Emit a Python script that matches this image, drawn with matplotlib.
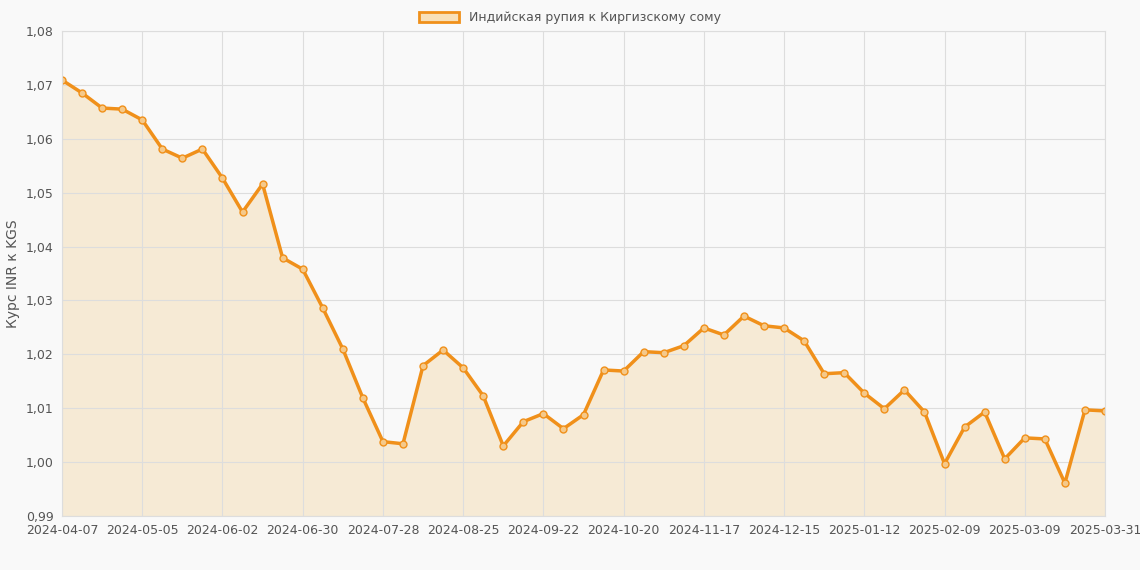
import matplotlib
matplotlib.use("Agg")
import matplotlib.pyplot as plt
from matplotlib.patches import Patch
from matplotlib.ticker import FixedLocator, FuncFormatter

values = [1.0709,1.0685,1.0657,1.0655,1.0635,1.0581,1.0564,1.0581,1.0527,1.0464,
          1.0516,1.0379,1.0358,1.0286,1.0210,1.0119,1.0038,1.0034,1.0179,1.0208,
          1.0175,1.0123,1.0030,1.0075,1.0090,1.0062,1.0088,1.0171,1.0169,1.0205,
          1.0203,1.0216,1.0249,1.0236,1.0271,1.0253,1.0249,1.0225,1.0164,1.0166,
          1.0128,1.0099,1.0134,1.0093,0.9997,1.0065,1.0093,1.0006,1.0045,1.0043,
          0.9961,1.0097,1.0095]
tick_pos = [0,4,8,12,16,20,24,28,32,36,40,44,48,52]
tick_labels = ["2024-04-07","2024-05-05","2024-06-02","2024-06-30","2024-07-28",
               "2024-08-25","2024-09-22","2024-10-20","2024-11-17","2024-12-15",
               "2025-01-12","2025-02-09","2025-03-09","2025-03-31"]
series_name = "Индийская рупия к Киргизскому сому"
y_label = "Курс INR к KGS"

bg = "#f9f9f9"
col = "#f0901a"
fig = plt.figure(figsize=(11.4, 5.7), dpi=100, facecolor=bg)
ax = fig.add_axes([62/1140, 1-516/570, (1105-62)/1140, (516-31)/570], facecolor=bg)
x = list(range(len(values)))
ax.fill_between(x, values, 0.99, color="#f5deb8", alpha=0.55, lw=0)
ax.plot(x, values, color=col, lw=2.5, marker="o", ms=5, mfc="#f5c98a", mec=col, mew=1)
ax.set_xlim(0, len(values)-1)
ax.set_ylim(0.99, 1.08)
ax.xaxis.set_major_locator(FixedLocator(tick_pos))
ax.set_xticklabels(tick_labels)
ax.set_xticks(range(len(values)), minor=True)
ax.yaxis.set_major_locator(FixedLocator([0.99+0.01*i for i in range(10)]))
ax.yaxis.set_major_formatter(FuncFormatter(lambda v, p: f"{v:.2f}".replace(".", ",")))
ax.grid(True, which="major", color="#dddddd", lw=0.8)
ax.tick_params(which="both", length=0, labelsize=9, colors="#555555", pad=6)
for s in ax.spines.values():
    s.set_color("#dddddd")
ax.set_ylabel(y_label, fontsize=10, color="#555555")
fig.legend(handles=[Patch(facecolor="#f8e0b8", edgecolor=col, lw=2, label=series_name)],
           loc="upper center", bbox_to_anchor=(0.5, 1.0), frameon=False, fontsize=9,
           labelcolor="#555555", handlelength=3.2, handleheight=0.9)
fig.savefig("out.png", dpi=100, facecolor=bg)
